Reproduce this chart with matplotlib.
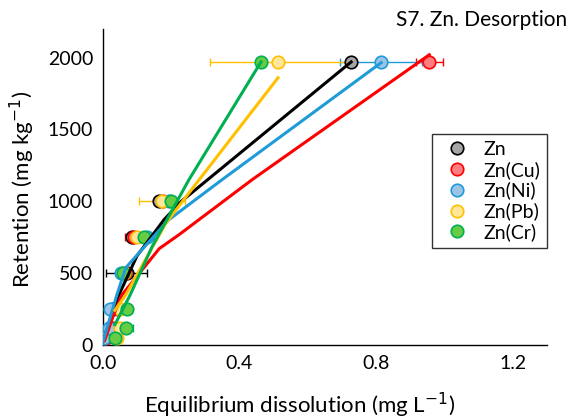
import numpy as np
import matplotlib
matplotlib.use("Agg")
import matplotlib.pyplot as plt

plt.rcParams['font.family'] = ['Lato', 'DejaVu Sans']

# retention levels (mg/kg) shared by the measured points
retention = [45, 120, 250, 500, 750, 1000, 1970]

# measured equilibrium dissolution (mg/L) and x error for each series
zn_x = [0.005, 0.02, 0.03, 0.07, 0.085, 0.165, 0.727]
zn_err = [0.003, 0.003, 0.005, 0.06, 0.01, 0.012, 0.01]
cu_x = [0.01, 0.03, 0.045, 0.065, 0.09, 0.175, 0.956]
cu_err = [0.003, 0.003, 0.005, 0.01, 0.025, 0.01, 0.04]
ni_x = [0.004, 0.018, 0.02, 0.053, 0.13, 0.195, 0.815]
ni_err = [0.003, 0.003, 0.004, 0.01, 0.02, 0.02, 0.12]
pb_x = [0.04, 0.05, 0.05, 0.062, 0.10, 0.173, 0.513]
pb_err = [0.003, 0.005, 0.005, 0.01, 0.01, 0.067, 0.2]
cr_x = [0.035, 0.067, 0.07, 0.06, 0.12, 0.2, 0.463]
cr_err = [0.003, 0.02, 0.005, 0.005, 0.01, 0.01, 0.01]

# fitted curves (x, y)
zn_fit_x = [0.0, 0.023, 0.047, 0.1, 0.179, 0.23, 0.727]
zn_fit_y = [20, 188, 348, 620, 871, 1000, 1970]
cu_fit_x = [0.005, 0.03, 0.056, 0.12, 0.165, 0.223, 0.437, 0.956]
cu_fit_y = [30, 200, 348, 537, 670, 767, 1150, 2020]
ni_fit_x = [0.0, 0.041, 0.067, 0.106, 0.193, 0.349, 0.815]
ni_fit_y = [20, 348, 537, 641, 871, 1150, 1965]
pb_fit_x = [0.035, 0.067, 0.185, 0.282, 0.513]
pb_fit_y = [240, 348, 850, 1150, 1860]
cr_fit_x = [0.035, 0.08, 0.144, 0.252, 0.463]
cr_fit_y = [140, 348, 683, 1150, 1970]

labels = ['Zn', 'Zn(Cu)', 'Zn(Ni)', 'Zn(Pb)', 'Zn(Cr)']
fills = ['#a5a5a5', '#ff7c80', '#9dc3e6', '#ffe699', '#66cc44']
edges = ['#000000', '#ff0000', '#1f9bd7', '#ffc000', '#00b050']

xs = [zn_x, cu_x, ni_x, pb_x, cr_x]
errs = [zn_err, cu_err, ni_err, pb_err, cr_err]
fit_xs = [zn_fit_x, cu_fit_x, ni_fit_x, pb_fit_x, cr_fit_x]
fit_ys = [zn_fit_y, cu_fit_y, ni_fit_y, pb_fit_y, cr_fit_y]

fig = plt.figure(figsize=(5.78, 4.19), dpi=100)
ax = fig.add_axes([0.178, 0.177, 0.768, 0.754])

for i in range(5):
    ax.errorbar(xs[i], retention, xerr=errs[i], fmt='none', ecolor=edges[i],
                elinewidth=1, capsize=3, zorder=2)
    ax.plot(xs[i], retention, 'o', ms=9, mfc=fills[i], mec=edges[i], mew=1.2,
            label=labels[i], zorder=3)

for i in range(5):
    ax.plot(fit_xs[i], fit_ys[i], '-', color=edges[i], lw=2.2, zorder=4)

ax.set_xlim(0, 1.3)
ax.set_ylim(0, 2200)
ax.set_xticks([0.0, 0.4, 0.8, 1.2])
ax.set_xticklabels(['0.0', '0.4', '0.8', '1.2'])
ax.set_yticks([0, 500, 1000, 1500, 2000])
ax.tick_params(length=0, labelsize=14, pad=7)
for s in ['top', 'right']:
    ax.spines[s].set_visible(False)
for s in ['left', 'bottom']:
    ax.spines[s].set_color('#000000')
    ax.spines[s].set_linewidth(1)

fig.text(0.519, 0.033, 'Equilibrium dissolution (mg L$^{-1}$)', fontsize=16,
         ha='center', va='center')
fig.text(0.038, 0.547, 'Retention (mg kg$^{-1}$)', fontsize=16,
         ha='center', va='center', rotation=90)

leg = ax.legend(loc='upper right', bbox_to_anchor=(1.022, 0.698), fontsize=14,
                frameon=True, fancybox=False, edgecolor='#000000',
                handletextpad=0.4, borderpad=0.35, labelspacing=0.15,
                handlelength=1.9)
leg.get_frame().set_linewidth(1)

fig.text(0.981, 0.952, 'S7. Zn. Desorption', ha='right', va='center', fontsize=15)

fig.savefig('out.png', dpi=100)
